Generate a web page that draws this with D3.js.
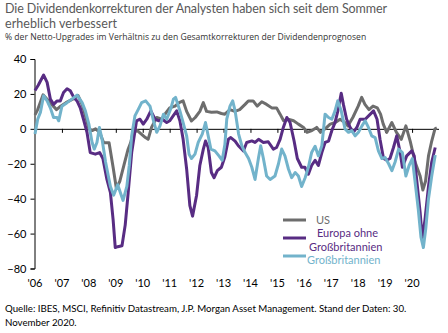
<!DOCTYPE html>
<html>
<head>
<meta charset="utf-8">
<script src="https://cdn.jsdelivr.net/npm/d3@7"></script>
<style>
  body { margin: 0; background: #fff; }
  text { font-family: Lato, "Open Sans", sans-serif; }
</style>
</head>
<body>
<div id="chart"></div>
<script>
// decimal year, value (% net upgrades)
const usData = [[2006.00, 8],[2006.10, 11],[2006.30, 19.5],[2006.45, 17],[2006.62, 14],[2006.80, 11],[2006.95, 13],[2007.15, 15],[2007.40, 17],[2007.60, 19],[2007.75, 14],[2007.90, 6],[2008.00, 0],[2008.12, -1],[2008.25, 0],[2008.40, -2],[2008.55, -8],[2008.75, -8],[2008.90, -22],[2009.02, -34],[2009.15, -30],[2009.30, -21],[2009.45, -12],[2009.55, -8],[2009.65, -2],[2009.80, -1],[2009.95, -3],[2010.10, -5],[2010.20, -6],[2010.33, 1],[2010.52, 6.5],[2010.70, 5.5],[2010.83, 8.5],[2011.00, 12],[2011.20, 13],[2011.35, 15],[2011.50, 16],[2011.63, 10],[2011.81, 4.5],[2011.95, 6.5],[2012.12, 10],[2012.25, 15],[2012.37, 10],[2012.55, 9.5],[2012.75, 9.7],[2012.92, 8.8],[2013.05, 8.4],[2013.24, 11],[2013.42, 10],[2013.60, 11],[2013.80, 14],[2013.92, 16],[2014.10, 16],[2014.25, 13],[2014.42, 15.5],[2014.60, 14],[2014.79, 12],[2014.97, 12],[2015.10, 8.4],[2015.23, 4.6],[2015.40, 5.5],[2015.60, 4.6],[2015.78, 2.7],[2015.97, 0.8],[2016.10, -2],[2016.28, -1],[2016.46, 0.8],[2016.60, -2],[2016.77, 0],[2016.96, 2.7],[2017.15, 3.6],[2017.33, 5.5],[2017.50, 3.6],[2017.62, 1.7],[2017.80, 6.5],[2018.00, 13],[2018.13, 18],[2018.25, 14],[2018.40, 11],[2018.55, 13],[2018.71, 12],[2018.83, 8.4],[2018.93, 2.7],[2019.06, -2],[2019.25, 3.6],[2019.42, -2],[2019.60, -6],[2019.77, 1.7],[2019.93, -7],[2020.11, -19],[2020.30, -27],[2020.40, -35],[2020.50, -30],[2020.61, -15.5],[2020.73, -7],[2020.85, 0],[2020.92, 0.5]];

const europeData = [[2006.00, 22],[2006.12, 25],[2006.32, 30.8],[2006.45, 26.6],[2006.57, 17],[2006.69, 14],[2006.82, 16],[2006.94, 16],[2007.06, 20.8],[2007.19, 23],[2007.31, 21.8],[2007.44, 18],[2007.56, 16],[2007.68, 12],[2007.80, 5.5],[2007.93, -2],[2008.05, -13.6],[2008.24, -14.5],[2008.40, -13.6],[2008.52, -17],[2008.67, -29],[2008.80, -36.5],[2008.90, -52],[2008.98, -68],[2009.07, -67.5],[2009.23, -67],[2009.35, -55],[2009.46, -36.5],[2009.59, -13.6],[2009.77, 4.6],[2009.90, 5.5],[2010.02, 2.7],[2010.15, 5.5],[2010.30, 10.3],[2010.46, 5.5],[2010.60, 4.6],[2010.73, 5.5],[2010.89, 3.6],[2011.00, 4.6],[2011.13, 7.4],[2011.26, 10.3],[2011.38, 4.6],[2011.50, -6],[2011.63, -23],[2011.75, -44],[2011.85, -50],[2012.00, -38],[2012.12, -21],[2012.25, -11.6],[2012.33, -7],[2012.43, -10.7],[2012.55, -25],[2012.65, -28],[2012.77, -24],[2012.92, -22],[2013.05, -16],[2013.18, -6],[2013.27, -5],[2013.43, -7],[2013.55, -9.7],[2013.74, -12.6],[2013.86, -7.8],[2014.05, -6.9],[2014.17, -7.8],[2014.30, -6],[2014.48, -7.8],[2014.66, -7.4],[2014.85, -11.6],[2014.97, -10.7],[2015.10, -6],[2015.22, 0.8],[2015.35, 6.5],[2015.47, 3.6],[2015.62, -7],[2015.74, -17],[2015.90, -22],[2016.02, -22],[2016.15, -26],[2016.27, -21],[2016.40, -18],[2016.52, -21],[2016.65, -13.6],[2016.77, -7.8],[2016.90, -7],[2017.02, -1],[2017.14, 3.6],[2017.24, 10],[2017.37, 20.4],[2017.45, 14],[2017.57, 5.5],[2017.70, 0.8],[2017.82, -2],[2017.95, 0.8],[2018.07, 5.5],[2018.26, 5.5],[2018.45, 8.4],[2018.57, 10.3],[2018.70, 5.5],[2018.81, -6],[2018.94, -17],[2019.06, -18],[2019.18, -17],[2019.31, -10.7],[2019.43, -4],[2019.56, -13.6],[2019.64, -22],[2019.80, -15.5],[2019.99, -12.6],[2020.08, -15.5],[2020.17, -29],[2020.30, -48],[2020.38, -63],[2020.48, -52],[2020.61, -33],[2020.73, -19],[2020.86, -10.7]];

const ukData = [[2006.00, -3],[2006.10, 5.5],[2006.20, 9.4],[2006.32, 19],[2006.45, 16],[2006.57, 12],[2006.69, 6.5],[2006.82, 6.5],[2006.88, 4.6],[2007.00, 13],[2007.19, 15],[2007.37, 17],[2007.56, 19.3],[2007.75, 15],[2007.87, 10.3],[2008.00, 2.7],[2008.12, -7.8],[2008.20, -11.6],[2008.30, -7.8],[2008.39, 0.8],[2008.49, -6],[2008.62, -19],[2008.80, -33],[2008.92, -38],[2009.07, -32],[2009.27, -41],[2009.41, -33],[2009.50, -21],[2009.59, -4],[2009.71, 7.4],[2009.83, 11],[2009.96, 15],[2010.11, 16],[2010.27, 13],[2010.40, 4.6],[2010.52, -2],[2010.64, 1.7],[2010.77, 8.4],[2010.89, 5.5],[2011.05, 12],[2011.14, 17],[2011.22, 18],[2011.38, 10.3],[2011.50, 3.6],[2011.63, -4],[2011.72, -14.5],[2011.81, -17],[2011.94, -14.5],[2012.06, -7.8],[2012.21, -3],[2012.33, 3.6],[2012.43, -4],[2012.53, -11.6],[2012.68, -12.6],[2012.83, -15.5],[2012.95, -18],[2013.05, -9],[2013.12, 5.5],[2013.24, 13],[2013.34, 16],[2013.43, 10.3],[2013.56, -3],[2013.68, -9.7],[2013.80, -13.6],[2013.93, -17],[2014.05, -22],[2014.17, -29],[2014.30, -16.4],[2014.38, -9.7],[2014.48, -17],[2014.60, -27],[2014.73, -29],[2014.91, -27],[2015.04, -20],[2015.16, -11.6],[2015.28, -15.5],[2015.41, -23],[2015.53, -28],[2015.66, -25],[2015.78, -27],[2015.90, -33],[2016.03, -28],[2016.15, -22],[2016.27, -13.6],[2016.40, -10],[2016.52, -15.5],[2016.65, -9.7],[2016.77, 8.4],[2016.90, 6.5],[2017.02, 5.5],[2017.14, 10.3],[2017.24, 16],[2017.37, 10.3],[2017.51, 0],[2017.64, -2],[2017.76, -1],[2017.89, -4],[2018.01, -2],[2018.14, 1.7],[2018.26, 4.6],[2018.38, 0.8],[2018.50, -4],[2018.63, -5],[2018.75, -12.6],[2018.88, -17],[2019.00, -16.4],[2019.13, -20],[2019.25, -24],[2019.37, -19],[2019.50, -11.6],[2019.64, -13.6],[2019.77, -27],[2019.89, -21],[2020.01, -17],[2020.11, -30],[2020.23, -46],[2020.33, -62],[2020.42, -68],[2020.51, -57],[2020.61, -40],[2020.73, -27],[2020.86, -15]];

const yearTicks = d3.range(2006, 2021);
const yearLabels = yearTicks.map((y) => "'" + String(y).slice(2));
const valueTicks = [40, 20, 0, -20, -40, -60, -80];
const seriesNames = ["US", "Europa ohne Großbritannien", "Großbritannien"];

const colors = { gray: "#6d6d6d", purple: "#582c83", blue: "#72b3cb" };

const width = 448, height = 333;

const svg = d3.select("#chart").append("svg")
  .attr("width", width)
  .attr("height", height);

// titles (textLength keeps the widths of the original)
svg.append("text").attr("x", 5).attr("y", 12.5)
  .attr("font-size", 12.5).attr("fill", "#595959")
  .attr("textLength", 382).attr("lengthAdjust", "spacing")
  .text("Die Dividendenkorrekturen der Analysten haben sich seit dem Sommer");
svg.append("text").attr("x", 5).attr("y", 28)
  .attr("font-size", 12.5).attr("fill", "#595959")
  .attr("textLength", 112).attr("lengthAdjust", "spacing")
  .text("erheblich verbessert");
svg.append("text").attr("x", 5).attr("y", 39.5)
  .attr("font-size", 8.6).attr("fill", "#333")
  .style("font-family", "'Open Sans', sans-serif")
  .text("% der Netto-Upgrades im Verhältnis zu den Gesamtkorrekturen der Dividendenprognosen");

const x = d3.scaleLinear().domain([2006, 2021]).range([35, 439]);
const y = d3.scaleLinear().domain([-80, 40]).range([268.5, 59]);

// y axis
svg.append("g")
  .attr("transform", "translate(34.5,0)")
  .call(d3.axisLeft(y).tickValues(valueTicks).tickSize(4).tickPadding(4))
  .call((g) => g.select(".domain").attr("stroke", "#000"))
  .call((g) => g.selectAll("text").attr("font-size", 11).attr("fill", "#000")
    .style("font-family", "Lato, sans-serif"));

// zero line with year ticks hanging below
svg.append("g")
  .attr("transform", "translate(0," + y(0) + ")")
  .call(d3.axisBottom(x).tickValues(yearTicks.slice(1)).tickSize(4).tickFormat(""))
  .call((g) => g.select(".domain").attr("d", "M" + x(2006) + ",0.5H" + x(2021)));

// year labels along the bottom
svg.append("g")
  .selectAll("text")
  .data(yearTicks)
  .join("text")
  .attr("x", (d) => x(d))
  .attr("y", 287)
  .attr("text-anchor", "middle")
  .attr("font-size", 11)
  .text((d, i) => yearLabels[i]);

const line = d3.line()
  .x((d) => x(d[0]))
  .y((d) => y(d[1]));

const series = [
  { data: usData, color: colors.gray },
  { data: europeData, color: colors.purple },
  { data: ukData, color: colors.blue },
];

svg.selectAll(".series")
  .data(series)
  .join("path")
  .attr("class", "series")
  .attr("fill", "none")
  .attr("stroke", (d) => d.color)
  .attr("stroke-width", 3)
  .attr("stroke-linejoin", "round")
  .attr("d", (d) => line(d.data));

// legend
const legendRows = [
  { y: 220, color: colors.gray },
  { y: 238, color: colors.purple },
  { y: 256, color: colors.blue },
];
svg.selectAll(".leg")
  .data(legendRows)
  .join("line")
  .attr("class", "leg")
  .attr("x1", 283).attr("x2", 306)
  .attr("y1", (d) => d.y).attr("y2", (d) => d.y)
  .attr("stroke", (d) => d.color)
  .attr("stroke-width", 3);

svg.append("text").attr("x", 316).attr("y", 224)
  .attr("font-size", 11).attr("fill", colors.gray).text(seriesNames[0]);
svg.append("text").attr("x", 317).attr("y", 237)
  .attr("font-size", 11).attr("fill", colors.purple).text("Europa ohne");
svg.append("text").attr("x", 309).attr("y", 250.5)
  .attr("font-size", 11).attr("fill", colors.purple).text(seriesNames[2]);
svg.append("text").attr("x", 307).attr("y", 264)
  .attr("font-size", 11).attr("fill", colors.blue).text(seriesNames[2]);

// source
svg.append("text").attr("x", 5).attr("y", 312)
  .attr("font-size", 9.7).attr("fill", "#000")
  .text("Quelle: IBES, MSCI, Refinitiv Datastream, J.P. Morgan Asset Management. Stand der Daten: 30.");
svg.append("text").attr("x", 5).attr("y", 326)
  .attr("font-size", 9.7).attr("fill", "#000")
  .text("November 2020.");
</script>
</body>
</html>
